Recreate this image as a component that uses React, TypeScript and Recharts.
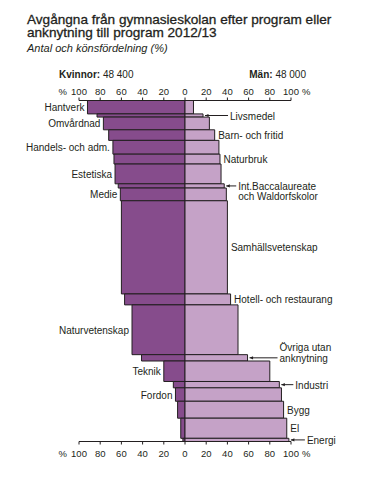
import { ComposedChart, XAxis, YAxis, ReferenceArea } from "recharts";

const programs = [
  "Hantverk",
  "Livsmedel",
  "Omvårdnad",
  "Barn- och fritid",
  "Handels- och adm.",
  "Naturbruk",
  "Estetiska",
  "Int.Baccalaureate\noch Waldorfskolor",
  "Medie",
  "Samhällsvetenskap",
  "Hotell- och restaurang",
  "Naturvetenskap",
  "Övriga utan\nanknytning",
  "Teknik",
  "Industri",
  "Fordon",
  "Bygg",
  "El",
  "Energi",
];

// antal avgångna per program (bar height)
const antal = [3800, 900, 3600, 3000, 3900, 2800, 5600, 1200, 3600, 26400, 3100, 14100, 1800, 5800, 1800, 3800, 4800, 5700, 900];
// andel kvinnor / män (%)
const kvinnor = [92, 83, 77, 72, 68, 67, 66, 63, 61, 60, 57, 50, 41, 20, 11, 9, 7, 4, 2];
const man = [8, 17, 23, 28, 32, 33, 34, 37, 39, 40, 43, 50, 59, 80, 89, 91, 93, 96, 98];

const pctTicks = [-100, -80, -60, -40, -20, 0, 20, 40, 60, 80, 100];

// which labels sit on the men's side, and which have a leader line [length, line index]
const rightSide = new Set([
  "Livsmedel",
  "Barn- och fritid",
  "Naturbruk",
  "Int.Baccalaureate\noch Waldorfskolor",
  "Samhällsvetenskap",
  "Hotell- och restaurang",
  "Övriga utan\nanknytning",
  "Industri",
  "Bygg",
  "El",
  "Energi",
]);
const leaders: Record<string, [number, number]> = {
  Livsmedel: [23, 0],
  "Int.Baccalaureate\noch Waldorfskolor": [10, 0],
  "Övriga utan\nanknytning": [28, 1],
  Industri: [12, 0],
  Energi: [14, 0],
};

const INK = "#231F20";
const WOMEN = "#864C8C";
const MEN = "#C5A2C7";
const FONT = "'Liberation Sans', Arial, Helvetica, sans-serif";

const total = antal.reduce((s, v) => s + v, 0);
const rows = programs.map((name, i) => {
  const start = antal.slice(0, i).reduce((s, v) => s + v, 0);
  return { name, start, end: start + antal[i], kvinnor: kvinnor[i], man: man[i] };
});

function PctTick(props: any) {
  const { x, y, payload, top } = props;
  const v = payload.value as number;
  const ty = top ? y - 1 : y + 10;
  return (
    <g>
      <text x={x} y={ty} textAnchor="middle" fontSize={9.5} fontFamily={FONT} fill={INK}>
        {Math.abs(v)}
      </text>
      {Math.abs(v) === 100 && (
        <text
          x={v < 0 ? x - 12 : x + 11}
          y={ty}
          textAnchor={v < 0 ? "end" : "start"}
          fontSize={9.5}
          fontFamily={FONT}
          fill={INK}
        >
          %
        </text>
      )}
    </g>
  );
}

function makeLabel(name: string, side: "L" | "R") {
  return (props: any) => {
    const vb = props.viewBox;
    if (!vb) return null;
    const cy = vb.y + vb.height / 2;
    const lines = name.split("\n");
    if (side === "L") {
      return (
        <text x={vb.x - 3} y={cy + 4} textAnchor="end" fontSize={10} fontFamily={FONT} fill={INK}>
          {lines[0]}
        </text>
      );
    }
    const edge = vb.x + vb.width;
    const lead = leaders[name];
    const x0 = edge + 2;
    const tx = lead ? x0 + lead[0] + 2 : edge + 3.5;
    const at = lead ? lead[1] : 0;
    return (
      <g>
        {lead && (
          <g>
            <line x1={x0} x2={x0 + lead[0]} y1={cy} y2={cy} stroke={INK} strokeWidth={1} />
            <polygon points={`${x0},${cy} ${x0 + 3.5},${cy - 1.6} ${x0 + 3.5},${cy + 1.6}`} fill={INK} />
          </g>
        )}
        {lines.map((l, k) => (
          <text key={k} x={tx} y={cy + 4 + (k - at) * 10.5} fontSize={10} fontFamily={FONT} fill={INK}>
            {l}
          </text>
        ))}
      </g>
    );
  };
}

export default function App() {
  return (
    <div style={{ position: "absolute", left: 0, top: 0, width: 384, height: 477, background: "#fff" }}>
      <ComposedChart
        width={384}
        height={477}
        layout="vertical"
        data={rows}
        margin={{ top: 80.5, bottom: 15.5, left: 79, right: 93 }}
      >
        <XAxis
          xAxisId="top"
          orientation="top"
          type="number"
          scale="linear"
          domain={[-100, 100]}
          allowDataOverflow
          ticks={pctTicks}
          height={20}
          tickSize={3}
          axisLine={{ stroke: INK }}
          tickLine={{ stroke: INK }}
          tick={<PctTick top />}
          interval={0}
        />
        <XAxis
          xAxisId="bottom"
          orientation="bottom"
          type="number"
          scale="linear"
          domain={[-100, 100]}
          allowDataOverflow
          ticks={pctTicks}
          height={20}
          tickSize={3}
          axisLine={{ stroke: INK }}
          tickLine={{ stroke: INK }}
          tick={<PctTick />}
          interval={0}
        />
        <YAxis
          yAxisId="cum"
          dataKey="end"
          type="number"
          scale="linear"
          domain={[0, total]}
          allowDataOverflow
          hide
        />
        {rows.map((r) => (
          <ReferenceArea
            key={"k-" + r.name}
            xAxisId="bottom"
            yAxisId="cum"
            x1={-r.kvinnor}
            x2={0}
            y1={r.start}
            y2={r.end}
            fill={WOMEN}
            fillOpacity={1}
            stroke={INK}
            strokeWidth={1}
            ifOverflow="visible"
            label={rightSide.has(r.name) ? undefined : makeLabel(r.name, "L")}
          />
        ))}
        {rows.map((r) => (
          <ReferenceArea
            key={"m-" + r.name}
            xAxisId="bottom"
            yAxisId="cum"
            x1={0}
            x2={r.man}
            y1={r.start}
            y2={r.end}
            fill={MEN}
            fillOpacity={1}
            stroke={INK}
            strokeWidth={1}
            ifOverflow="visible"
            label={rightSide.has(r.name) ? makeLabel(r.name, "R") : undefined}
          />
        ))}
      </ComposedChart>
      <svg
        width={384}
        height={100}
        style={{ position: "absolute", left: 0, top: 0, pointerEvents: "none" }}
      >
        <g fontFamily={FONT} fill={INK}>
          <text x={27} y={23.5} fontSize={13.6} stroke={INK} strokeWidth={0.3}>
            Avgångna från gymnasieskolan efter program eller
          </text>
          <text x={27} y={37} fontSize={13.6} stroke={INK} strokeWidth={0.3}>
            anknytning till program 2012/13
          </text>
          <text x={27} y={52} fontSize={11} fontStyle="italic">
            Antal och könsfördelning (%)
          </text>
          <text x={59} y={77.5} fontSize={10}>
            <tspan fontWeight="bold">Kvinnor:</tspan> 48 400
          </text>
          <text x={306} y={77.5} fontSize={10} textAnchor="end">
            <tspan fontWeight="bold">Män:</tspan> 48 000
          </text>
        </g>
      </svg>
    </div>
  );
}
